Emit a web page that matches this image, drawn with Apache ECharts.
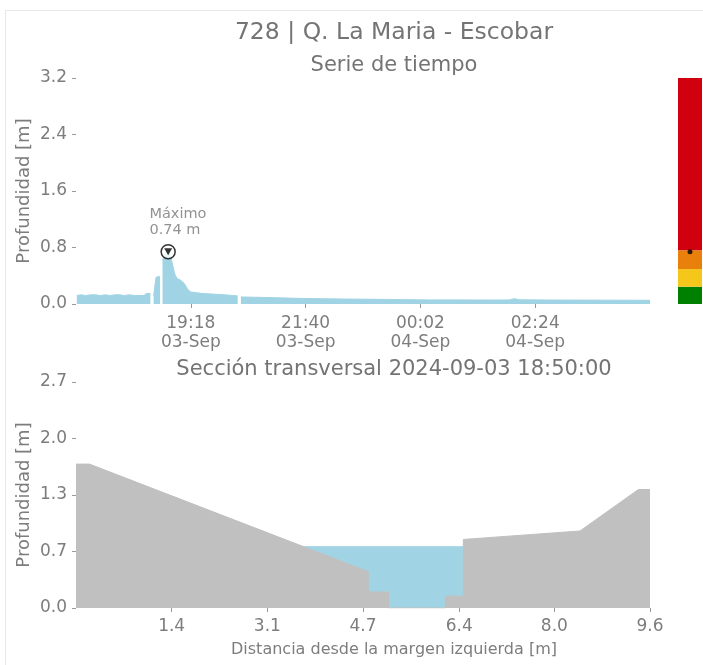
<!DOCTYPE html>
<html><head><meta charset="utf-8">
<script src="https://cdn.jsdelivr.net/npm/echarts@6/dist/echarts.min.js"></script>
<style>
html,body{margin:0;padding:0;background:#fff;overflow:hidden;}
#frame{position:absolute;left:5px;top:10px;width:720px;height:700px;border:1px solid #e8e8e8;}
#chart{position:absolute;left:0;top:0;width:703px;height:665px;}
</style></head>
<body><div id="frame"></div><div id="chart"></div>
<script>
// ---- texts ----
const mainTitle = '728 | Q. La Maria - Escobar';
const tsTitle = 'Serie de tiempo';
const xsTitle = 'Sección transversal 2024-09-03 18:50:00';
const yName = 'Profundidad [m]';
const xsXName = 'Distancia desde la margen izquierda [m]';
const maxLabel = 'Máximo';

// ---- time series ----
const tsYear = 2024;
const tsStart = '09-03 16:56';
const tsEnd = '09-04 04:46';
const tsTickTimes = ['09-03 19:18', '09-03 21:40', '09-04 00:02', '09-04 02:24'];
const tsTimes = [
 '09-03 16:57','09-03 17:02','09-03 17:08','09-03 17:14','09-03 17:20','09-03 17:26',
 '09-03 17:32','09-03 17:38','09-03 17:44','09-03 17:50','09-03 17:56','09-03 18:02',
 '09-03 18:08','09-03 18:14','09-03 18:20','09-03 18:23','09-03 18:28','09-03 18:30',
 '09-03 18:32','09-03 18:35','09-03 18:40','09-03 18:41','09-03 18:43','09-03 18:47',
 '09-03 18:50','09-03 18:53','09-03 18:55','09-03 18:58','09-03 19:01','09-03 19:05',
 '09-03 19:10','09-03 19:14','09-03 19:18','09-03 19:25','09-03 19:32','09-03 19:45',
 '09-03 20:00','09-03 20:16','09-03 20:18','09-03 20:20','09-03 20:40','09-03 21:00',
 '09-03 21:32','09-03 22:00','09-03 22:30','09-03 23:11','09-03 23:40','09-04 00:13',
 '09-04 00:40','09-04 01:10','09-04 01:40','09-04 01:52','09-04 01:58','09-04 02:05',
 '09-04 02:40','09-04 03:20','09-04 04:00','09-04 04:46'
];
const tsDepth = [
 0.12,0.13,0.12,0.13,0.13,0.12,
 0.13,0.12,0.13,0.13,0.12,0.13,
 0.12,0.12,0.12,0.15,0.15,null,
 0.12,0.38,0.39,null,0.62,0.72,
 0.74,0.66,0.58,0.43,0.36,0.34,
 0.29,0.21,0.17,0.16,0.15,0.14,
 0.13,0.115,null,0.10,0.095,0.09,
 0.08,0.075,0.07,0.066,0.062,0.058,
 0.058,0.057,0.056,0.058,0.075,0.06,
 0.056,0.055,0.054,0.053
];
const maxTime = '09-03 18:50';
const maxDepth = 0.74;
const tsYMax = 3.2, tsYStep = 0.8;

// ---- alert levels (colour bar) ----
const levelTops = [0.245, 0.495, 0.76, 3.2];
const levelColors = ['#008000', '#f5c71a', '#e9800b', '#d0000f'];

// ---- cross section ----
const xsDist   = [-0.21, 0.02, 4.80, 4.80, 5.15, 5.15, 6.12, 6.12, 6.43, 6.43, 8.43, 9.43, 9.63];
const xsGround = [ 1.70, 1.70, 0.43, 0.19, 0.19, 0.00, 0.00, 0.14, 0.14, 0.81, 0.91, 1.40, 1.40];
const waterDist = [3.4, 6.43];
const waterLevel = 0.724;
const xsXMin = -0.21, xsXMax = 9.63;
const xsXTicks = [1.43, 3.07, 4.71, 6.36, 7.99, 9.63];
const xsXTickLabels = ['1.4', '3.1', '4.7', '6.4', '8.0', '9.6'];
const xsYMax = 2.67, xsYStep = 0.6675;

// ---- helpers ----
const MON = ['Jan','Feb','Mar','Apr','May','Jun','Jul','Aug','Sep','Oct','Nov','Dec'];
function parseT(s){ const [d,t]=s.split(' '); const [mo,da]=d.split('-').map(Number); const [h,mi]=t.split(':').map(Number); return Date.UTC(tsYear,mo-1,da,h,mi); }
const t0 = parseT(tsStart);
const toMin = s => (parseT(s)-t0)/60000;
const pad = n => (n<10?'0':'')+n;
function timeLabel(v){ const d=new Date(t0+v*60000); return pad(d.getUTCHours())+':'+pad(d.getUTCMinutes())+'\n'+pad(d.getUTCDate())+'-'+MON[d.getUTCMonth()]; }

const FONT = 'DejaVu Sans';
const TXT = '#7d7d7d';
const tickStyle = {show:true, length:4, lineStyle:{color:'#9a9a9a', width:1}};
const tsData = tsTimes.map((t,i)=>[toMin(t), tsDepth[i]===null?'-':tsDepth[i]]);
const tsTicks = tsTickTimes.map(toMin);
const levelSeg = levelTops.map((v,i)=> +(v-(i?levelTops[i-1]:0)).toFixed(4));

const chart = echarts.init(document.getElementById('chart'), null, {renderer:'canvas'});
const option = {
  animation:false,
  backgroundColor:'transparent',
  textStyle:{fontFamily:FONT},
  title:[
    {text:mainTitle, left:389, textAlign:'center', top:16, textStyle:{fontFamily:FONT, fontSize:23.5, fontWeight:'normal', color:'#747474'}},
    {text:tsTitle, left:389, textAlign:'center', top:50, textStyle:{fontFamily:FONT, fontSize:21, fontWeight:'normal', color:'#747474'}},
    {text:xsTitle, left:389, textAlign:'center', top:354, textStyle:{fontFamily:FONT, fontSize:21, fontWeight:'normal', color:'#747474'}},
    {text:xsXName, left:389, textAlign:'center', top:637, textStyle:{fontFamily:FONT, fontSize:16, fontWeight:'normal', color:TXT}}
  ],
  grid:[
    {left:76, top:78, width:574, height:226},
    {left:76, top:382, width:574, height:226},
    {left:678, top:78, width:24, height:226}
  ],
  xAxis:[
    {gridIndex:0, type:'value', min:0, max:toMin(tsEnd), splitLine:{show:false}, axisLine:{show:false, onZero:false},
     axisTick:Object.assign({customValues:tsTicks}, tickStyle),
     axisLabel:{customValues:tsTicks, formatter:timeLabel, color:TXT, fontSize:17, fontFamily:FONT, lineHeight:19, margin:10}},
    {gridIndex:1, type:'value', min:xsXMin, max:xsXMax, splitLine:{show:false}, axisLine:{show:false, onZero:false},
     axisTick:Object.assign({customValues:xsXTicks}, tickStyle),
     axisLabel:{customValues:xsXTicks, formatter:v=>{let k=0,b=1e9;xsXTicks.forEach((t,i)=>{if(Math.abs(t-v)<b){b=Math.abs(t-v);k=i;}});return xsXTickLabels[k];}, color:TXT, fontSize:17, fontFamily:FONT, margin:10}},
    {gridIndex:2, type:'category', data:['nivel'], show:false}
  ],
  yAxis:[
    {gridIndex:0, type:'value', min:0, max:tsYMax, interval:tsYStep, splitLine:{show:false}, axisLine:{show:false, onZero:false},
     axisTick:tickStyle, axisLabel:{formatter:v=>v.toFixed(1), color:TXT, fontSize:17, fontFamily:FONT, margin:9},
     name:yName, nameLocation:'middle', nameRotate:90, nameGap:43, nameMoveOverlap:false, nameTextStyle:{color:TXT, fontSize:18, fontFamily:FONT}},
    {gridIndex:1, type:'value', min:0, max:xsYMax, interval:xsYStep, splitLine:{show:false}, axisLine:{show:false, onZero:false},
     axisTick:tickStyle, axisLabel:{formatter:v=>v.toFixed(1), color:TXT, fontSize:17, fontFamily:FONT, margin:9},
     name:yName, nameLocation:'middle', nameRotate:90, nameGap:43, nameMoveOverlap:false, nameTextStyle:{color:TXT, fontSize:18, fontFamily:FONT}},
    {gridIndex:2, type:'value', min:0, max:tsYMax, show:false}
  ],
  series:[
    {type:'line', xAxisIndex:0, yAxisIndex:0, data:tsData, showSymbol:false, symbol:'none', connectNulls:false,
     lineStyle:{color:'#a0d4e4', width:1}, areaStyle:{color:'#a0d4e4', opacity:1}},
    {type:'scatter', xAxisIndex:0, yAxisIndex:0, data:[[toMin(maxTime), maxDepth]], symbol:'circle', symbolSize:14, z:5,
     itemStyle:{color:'#ffffff', borderColor:'#000', borderWidth:1.5},
     label:{show:true, position:[-11,-38], align:'left', verticalAlign:'top', formatter:maxLabel+'\n'+maxDepth.toFixed(2)+' m',
       color:'#777', fontSize:14.5, lineHeight:16, fontFamily:FONT}},
    {type:'scatter', xAxisIndex:0, yAxisIndex:0, data:[[toMin(maxTime), maxDepth]], symbol:'triangle', symbolRotate:180, symbolSize:[8,7], z:6,
     itemStyle:{color:'#000'}, silent:true},
    {type:'line', xAxisIndex:1, yAxisIndex:1, data:waterDist.map(d=>[d, waterLevel]), symbol:'none',
     lineStyle:{color:'#a0d4e4', width:1}, areaStyle:{color:'#a0d4e4', opacity:1}, z:2},
    {type:'line', xAxisIndex:1, yAxisIndex:1, data:xsDist.map((d,i)=>[d, xsGround[i]]), symbol:'none',
     lineStyle:{color:'#c0c0c0', width:1}, areaStyle:{color:'#c0c0c0', opacity:1}, z:3},
    ...levelSeg.map((v,i)=>({type:'bar', xAxisIndex:2, yAxisIndex:2, stack:'lv', data:[v], barWidth:'100%',
      itemStyle:{color:levelColors[i]}, silent:true})),
    {type:'scatter', xAxisIndex:2, yAxisIndex:2, data:[[0, maxDepth]], symbolSize:5, itemStyle:{color:'#000'}, z:10}
  ]
};
chart.setOption(option);
</script>
</body></html>
